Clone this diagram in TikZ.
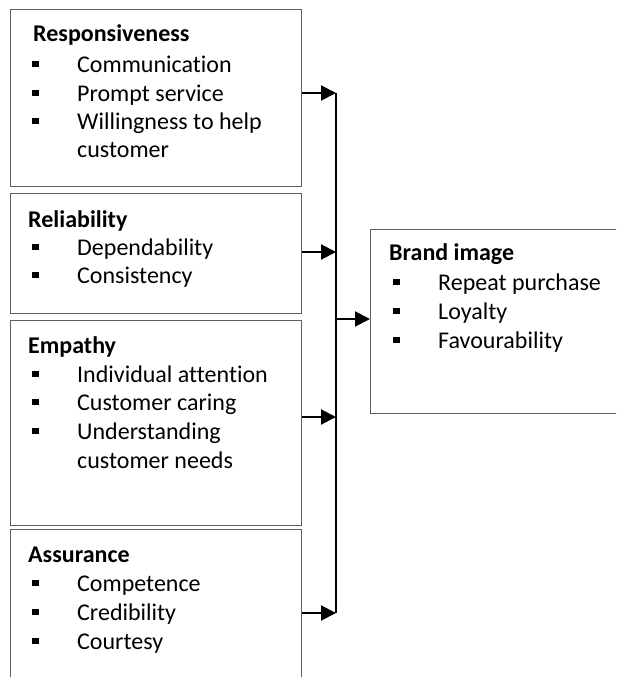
\documentclass[tikz,border=0pt]{standalone}
\usepackage{fontspec}
\setmainfont{Carlito}[Ligatures={NoCommon},RawFeature={-liga}]
\usetikzlibrary{arrows.meta}
\newcommand\sqbul{\makebox[45pt][l]{\rule[5pt]{6.5pt}{6.5pt}}}
\tikzset{
  box/.style={draw=black!62, line width=0.9pt, anchor=north west, inner sep=0pt},
  head/.style={anchor=base west, inner sep=0pt, font=\fontsize{24}{29}\selectfont\bfseries},
  item/.style={anchor=base west, inner sep=0pt, font=\fontsize{24}{29}\selectfont},
  arr/.style={line width=2pt, -{Triangle[length=15pt,width=15pt]}},
  bar/.style={line width=2pt}
}
\begin{document}
\begin{tikzpicture}[x=1pt,y=-1pt]
\useasboundingbox (0,0) rectangle (616,677);
\begin{scope}
\clip (0,0) rectangle (616,677);
% boxes
\node[box, minimum width=291pt, minimum height=177pt] (b1) at (10,9) {};
\node[box, minimum width=291pt, minimum height=120pt] (b2) at (10,193) {};
\node[box, minimum width=291pt, minimum height=205pt] (b3) at (10,320) {};
\node[box, minimum width=291pt, minimum height=170pt] (b4) at (10,529) {};
\node[box, minimum width=260pt, minimum height=184pt] (bi) at (370,229) {};
\end{scope}
% texts box 1
\node[head] (t1h) at (33,42) {Responsiveness};
\node[item] (t1a) at (32,72) {\sqbul Communication};
\node[item] (t1b) at (32,101) {\sqbul Prompt service};
\node[item] (t1c) at (32,129) {\sqbul Willingness to help};
\node[item] (t1d) at (77,157) {customer};
% box 2
\node[head] (t2h) at (28,227) {Reliability};
\node[item] (t2a) at (32,255) {\sqbul Dependability};
\node[item] (t2b) at (32,283) {\sqbul Consistency};
% box 3
\node[head] (t3h) at (28,353) {Empathy};
\node[item] (t3a) at (32,382) {\sqbul Individual attention};
\node[item] (t3b) at (32,410) {\sqbul Customer caring};
\node[item] (t3c) at (32,439) {\sqbul Understanding};
\node[item] (t3d) at (77,468) {customer needs};
% box 4
\node[head] (t4h) at (28,562) {Assurance};
\node[item] (t4a) at (32,591) {\sqbul Competence};
\node[item] (t4b) at (32,620) {\sqbul Credibility};
\node[item] (t4c) at (32,649) {\sqbul Courtesy};
% brand image
\node[head] (tbh) at (389,260) {Brand image};
\node[item] (tba) at (393,290) {\sqbul Repeat purchase};
\node[item] (tbb) at (393,319) {\sqbul Loyalty};
\node[item] (tbc) at (393,348) {\sqbul Favourability};
% connectors
\coordinate (j1) at (336,93);
\coordinate (j2) at (336,252);
\coordinate (j3) at (336,417);
\coordinate (j4) at (336,613);
\coordinate (jb) at (336,319);
\draw[bar] (j1) -- (j4);
\draw[arr] (j1 -| b1.east) -- (j1);
\draw[arr] (j2 -| b2.east) -- (j2);
\draw[arr] (j3 -| b3.east) -- (j3);
\draw[arr] (j4 -| b4.east) -- (j4);
\draw[arr] (jb) -- (jb -| bi.west);
\end{tikzpicture}
\end{document}
